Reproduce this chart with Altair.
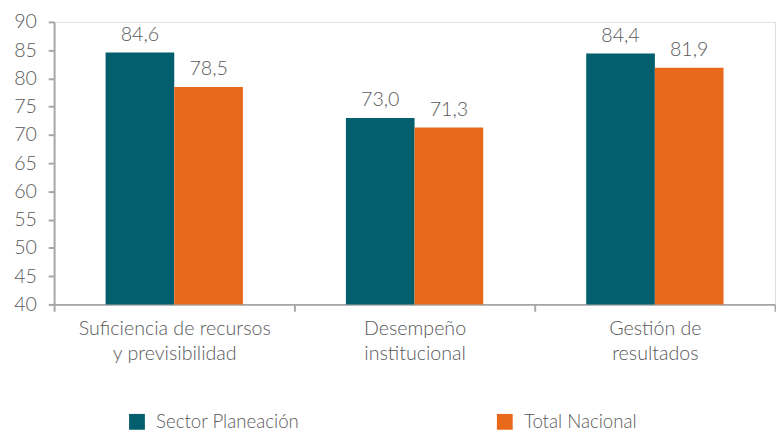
import altair as alt
import pandas as pd

categories = ["Suficiencia de recursos|y previsibilidad", "Desempeño|institucional", "Gestión de|resultados"]
series = ["Sector Planeación", "Total Nacional"]
sector_values = [84.6, 73.0, 84.4]
total_values = [78.5, 71.3, 81.9]
colors = ["#035F6D", "#E8691C"]

rows = []
for c, a, b in zip(categories, sector_values, total_values):
    rows.append({"cat": c, "serie": series[0], "v": a})
    rows.append({"cat": c, "serie": series[1], "v": b})
df = pd.DataFrame(rows)

FONT = "'Lato Light', Lato"
TXT = "#595959"
AX = "#A6A6A6"

x = alt.X("cat:N", sort=categories, title=None,
          scale=alt.Scale(paddingInner=0, paddingOuter=0),
          axis=alt.Axis(labelExpr="split(datum.label, '|')", labelAngle=0,
                        tickBand="extent", domainColor=AX, domainWidth=2,
                        tickColor=AX, tickWidth=2, tickSize=7, labelLimit=400,
                        labelFont=FONT, labelFontSize=20, labelColor=TXT,
                        labelFontWeight=300, labelPadding=8, labelLineHeight=25))
xo = alt.XOffset("serie:N", sort=series,
                 scale=alt.Scale(paddingOuter=0.75, paddingInner=0))
y = alt.Y("v:Q", title=None,
          scale=alt.Scale(domain=[40, 90], nice=False, zero=False),
          axis=alt.Axis(values=list(range(40, 91, 5)), grid=False, labelOverlap=False,
                        domainColor=AX, domainWidth=2, tickColor=AX, tickWidth=2,
                        tickSize=6, labelFont=FONT, labelFontSize=20,
                        labelColor=TXT, labelFontWeight=300, labelPadding=12))
color = alt.Color("serie:N", sort=series,
                  scale=alt.Scale(domain=series, range=colors),
                  legend=alt.Legend(title=None, orient="none", legendX=75, legendY=398,
                                    direction="horizontal", columns=2, columnPadding=200,
                                    symbolType="square", symbolSize=260,
                                    symbolStrokeWidth=0, labelFont=FONT,
                                    labelFontSize=19, labelColor=TXT,
                                    labelFontWeight=300, labelOffset=10))

base = alt.Chart(df).encode(x=x, xOffset=xo, y=y)
bars = base.mark_bar(clip=True).encode(color=color)
labels = base.transform_calculate(
    lab="replace(format(datum.v, '.1f'), '.', ',')"
).mark_text(baseline="bottom", dy=-8, font=FONT, fontSize=20, color=TXT,
            fontWeight=300).encode(text="lab:N")

chart = (bars + labels).properties(
    width=735, height=288, padding={"left": 5, "top": 0, "right": 0, "bottom": 0}
).configure_view(stroke=None).configure(background="white")

chart.save("out.html", embed_options={"renderer": "svg", "actions": False})
